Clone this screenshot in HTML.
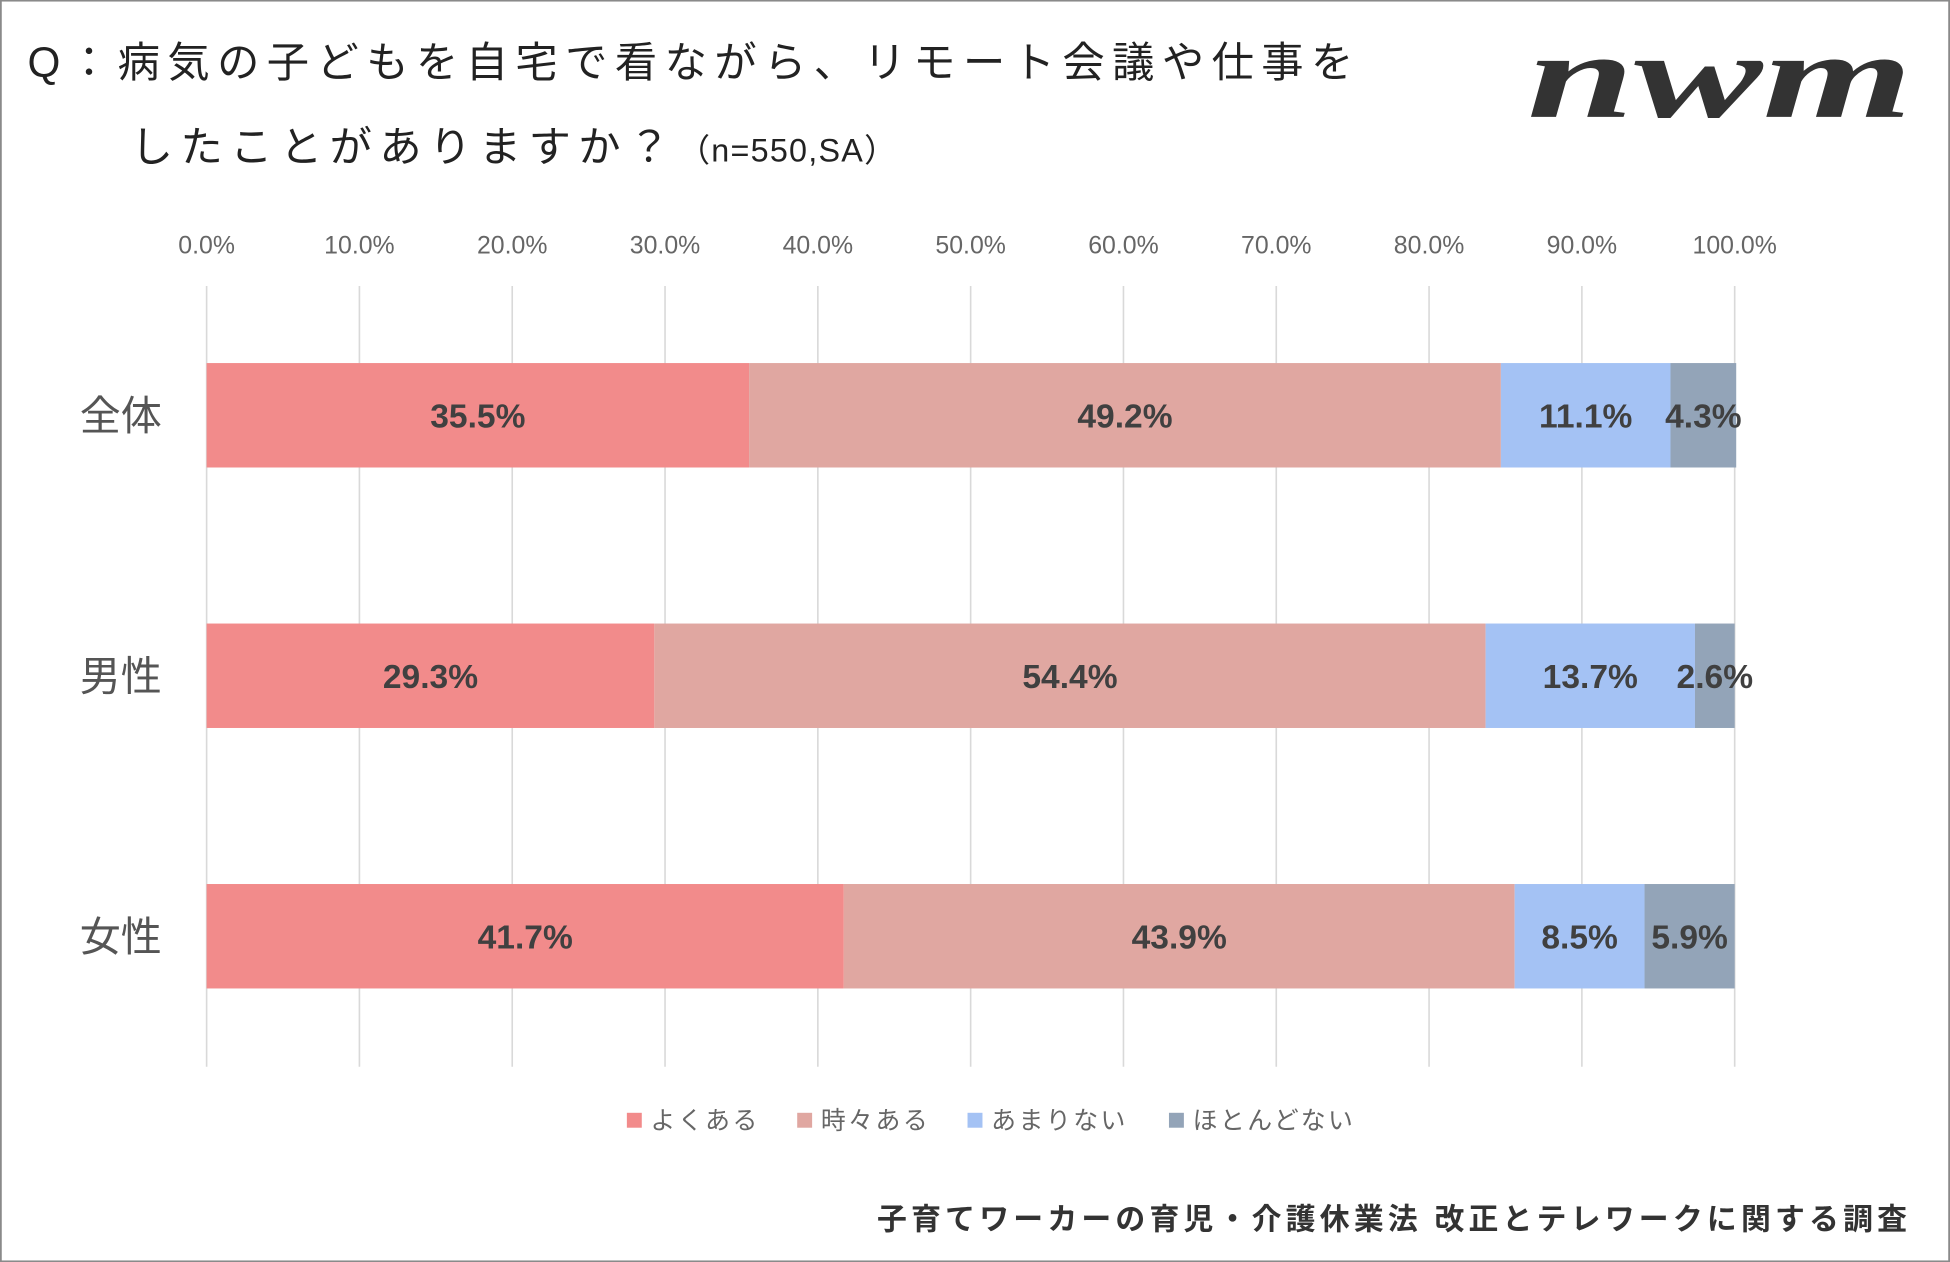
<!DOCTYPE html>
<html><head><meta charset="utf-8"><style>
html,body{margin:0;padding:0;background:#fff;}
svg{display:block;font-family:"Liberation Sans","Noto Sans CJK JP",sans-serif;}
</style></head><body>
<svg id="chart" width="1950" height="1262" viewBox="0 0 1568 1015">
<rect x="0.5" y="0.5" width="1567" height="1014" fill="#fff" stroke="#8a8a8a" stroke-width="1.5"/>
<text x="22" y="62" font-size="34" fill="#222" letter-spacing="6">Q：病気の子どもを自宅で看ながら、リモート会議や仕事を</text>
<text x="105" y="130" font-size="34" fill="#222" letter-spacing="6">したことがありますか？<tspan font-size="26" letter-spacing="1">（n=550,SA）</tspan></text>
<text x="1383" y="94" font-size="98" font-weight="bold" font-style="italic" fill="#333" text-anchor="middle" textLength="310" lengthAdjust="spacingAndGlyphs" font-family="Liberation Serif,serif">nwm</text>
<g id="grid"></g><g id="bars"></g>
<g id="legend"></g>
<text x="1537" y="989" font-size="24" font-weight="bold" fill="#333" text-anchor="end" letter-spacing="3.4">子育てワーカーの育児・介護休業法 改正とテレワークに関する調査</text>
</svg>
<script>
const categories=["全体","男性","女性"];
const seriesNames=["よくある","時々ある","あまりない","ほとんどない"];
const often=[35.5,29.3,41.7];
const sometimes=[49.2,54.4,43.9];
const rarely=[11.1,13.7,8.5];
const never=[4.3,2.6,5.9];
const ticks=[0,10,20,30,40,50,60,70,80,90,100];
const colors=["#f28b8b","#e0a7a1","#a4c2f4","#93a4b8"];
const NS="http://www.w3.org/2000/svg";
const x=v=>166+v*(1395-166)/100;
const yc=i=>334+i*209.5;
function mk(t,a,p){const e=document.createElementNS(NS,t);for(const k in a)e.setAttribute(k,a[k]);p.appendChild(e);return e;}
const grid=document.getElementById('grid'),bars=document.getElementById('bars'),leg=document.getElementById('legend');
ticks.forEach(t=>{
 const l=mk('line',{x1:x(t),x2:x(t),y1:230,y2:858,stroke:'#d9d9d9','stroke-width':1.3},grid);
 
 
 const tx=mk('text',{x:x(t),y:204,'font-size':20,fill:'#666','text-anchor':'middle'},grid);
 tx.textContent=t.toFixed(1)+'%';
 
 
});
const series=[often,sometimes,rarely,never];
categories.forEach((c,i)=>{
 const cl=mk('text',{x:97,y:yc(i)+12,'font-size':33,fill:'#555','text-anchor':'middle'},bars);
 cl.textContent=c;
 
 
 let acc=0;
 series.forEach((s,j)=>{
  const v=s[i];
  const r=mk('rect',{x:x(acc),y:yc(i)-42,width:x(acc+v)-x(acc),height:84,fill:colors[j]},bars);
  
  
  const lb=mk('text',{x:x(acc+v/2),y:yc(i)+10,'font-size':27,'font-weight':'bold',fill:'#404040','text-anchor':'middle'},bars);
  lb.textContent=v.toFixed(1)+'%';
  
  
  acc+=v;
 });
});
const lx=[504,641,778,940];
seriesNames.forEach((n,j)=>{
 const r=mk('rect',{x:lx[j],y:895,width:12,height:12,fill:colors[j]},leg);
 
 
 const t=mk('text',{x:lx[j]+19,y:908,'font-size':20,fill:'#666','letter-spacing':'2'},leg);
 t.textContent=n;
 
 
});
</script>
</body></html>
